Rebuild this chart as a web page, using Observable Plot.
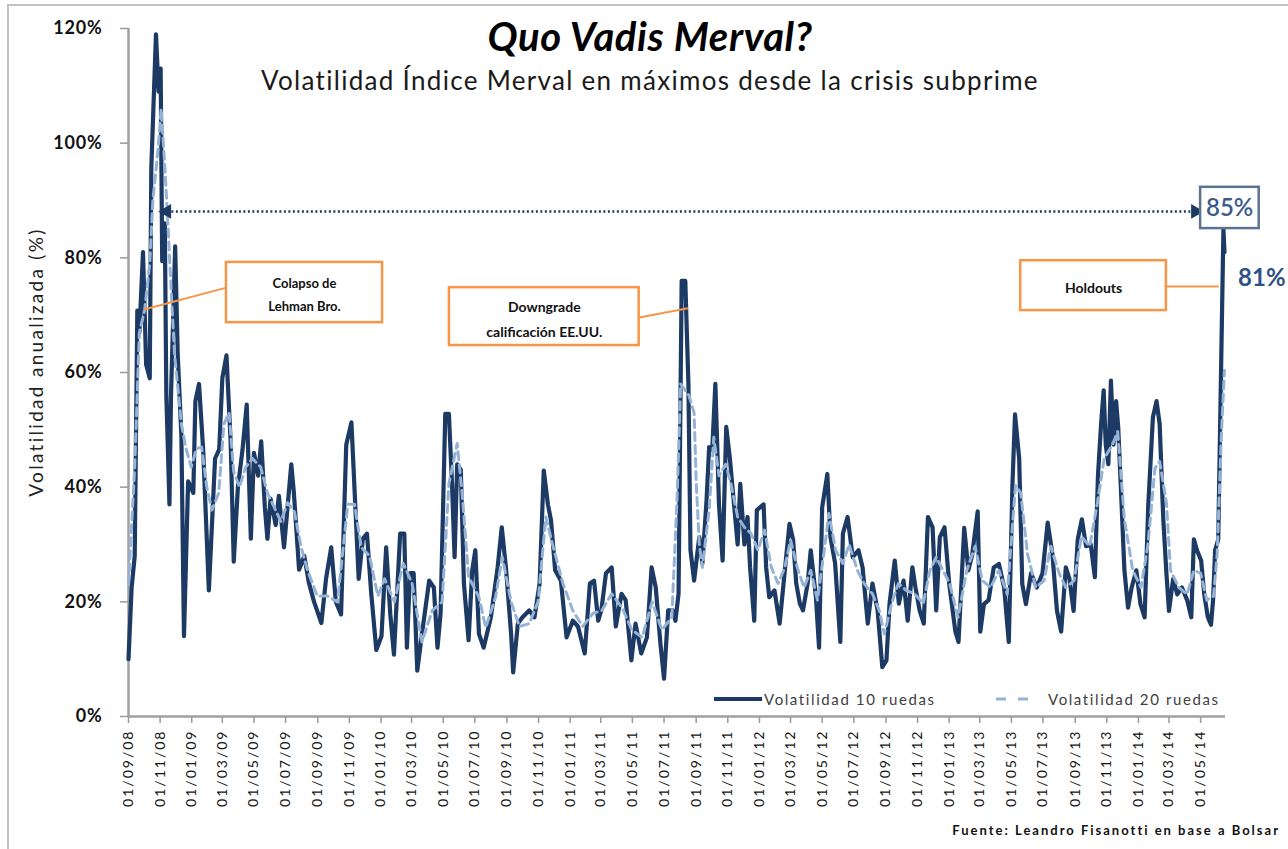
<!DOCTYPE html>
<html><head><meta charset="utf-8">
<script src="https://cdn.jsdelivr.net/npm/d3@7"></script>
<script src="https://cdn.jsdelivr.net/npm/@observablehq/plot@0.6"></script>
<style>
body{margin:0;background:#fff;font-family:Lato,"Open Sans",sans-serif;}
#wrap{position:relative;width:1288px;height:849px;overflow:hidden;background:#fff;}
#wrap > svg{position:absolute;left:0;top:0;}
.ov{position:absolute;white-space:nowrap;font-family:Lato,"Open Sans",sans-serif;}
#frame{position:absolute;left:7px;top:4px;width:1300px;height:860px;border-left:2px solid #c3c3c3;border-top:2px solid #c3c3c3;}
#title{left:0;width:1300px;text-align:center;top:16px;font-size:40px;line-height:40px;font-weight:bold;font-style:italic;color:#000;letter-spacing:0.6px;}
#subtitle{left:0;width:1300px;text-align:center;top:67px;font-size:26px;line-height:26px;color:#1a1a1a;letter-spacing:1.3px;}
#ylab{left:-134px;top:352px;width:340px;height:20px;line-height:20px;text-align:center;font-size:19px;color:#222;letter-spacing:2.3px;transform:rotate(-90deg);}
#source{right:8px;top:824px;font-size:13px;line-height:13px;font-weight:bold;color:#111;letter-spacing:2px;}
.leg{top:688px;font-size:15px;line-height:18px;color:#404040;letter-spacing:1.6px;}
.leg svg{display:inline-block;vertical-align:middle;}
.leg span{vertical-align:middle;}
g[aria-label="y-axis tick label"] text{letter-spacing:0.8px;}
g[aria-label="x-axis tick label"] text{letter-spacing:2px;}
g[aria-label="anno"] text{letter-spacing:1px;}
</style></head>
<body><div id="wrap"></div>
<script>
// ---- Data: Volatilidad 10 ruedas (annualized %) ----
const vol10Dates = [
"2008-09-01","2008-09-07","2008-09-13","2008-09-18","2008-09-22","2008-09-29","2008-10-05","2008-10-12","2008-10-15","2008-10-24",
"2008-10-29","2008-11-02","2008-11-05","2008-11-10","2008-11-13","2008-11-19","2008-11-22","2008-11-30","2008-12-05","2008-12-12",
"2008-12-17","2008-12-25","2009-01-04","2009-01-08","2009-01-15","2009-01-23","2009-02-03","2009-02-15","2009-02-23","2009-03-01",
"2009-03-09","2009-03-17","2009-03-23","2009-03-31","2009-04-09","2009-04-17","2009-04-25","2009-05-01","2009-05-09","2009-05-15",
"2009-05-22","2009-05-27","2009-06-02","2009-06-12","2009-06-18","2009-06-28","2009-07-04","2009-07-12","2009-07-17","2009-07-27",
"2009-08-06","2009-08-15","2009-08-25","2009-09-08","2009-09-17","2009-09-27","2009-10-06","2009-10-16","2009-10-26","2009-11-05",
"2009-11-11","2009-11-19","2009-11-27","2009-12-05","2009-12-13","2009-12-23","2010-01-02","2010-01-11","2010-01-19","2010-01-26",
"2010-02-07","2010-02-15","2010-02-20","2010-02-26","2010-03-05","2010-03-12","2010-03-21","2010-04-04","2010-04-13","2010-04-20",
"2010-04-26","2010-05-05","2010-05-12","2010-05-18","2010-05-23","2010-05-28","2010-06-04","2010-06-10","2010-06-19","2010-06-26",
"2010-07-02","2010-07-09","2010-07-18","2010-08-01","2010-08-14","2010-08-22","2010-08-30","2010-09-09","2010-09-13","2010-09-22",
"2010-10-01","2010-10-14","2010-10-24","2010-11-03","2010-11-11","2010-11-19","2010-11-25","2010-12-03","2010-12-14","2010-12-25",
"2011-01-06","2011-01-16","2011-01-29","2011-02-08","2011-02-16","2011-02-24","2011-03-02","2011-03-11","2011-03-22","2011-03-30",
"2011-04-10","2011-04-18","2011-04-29","2011-05-07","2011-05-18","2011-05-29","2011-06-07","2011-06-15","2011-06-24","2011-07-01",
"2011-07-09","2011-07-18","2011-07-23","2011-07-29","2011-08-04","2011-08-11","2011-08-17","2011-08-21","2011-08-28","2011-09-07",
"2011-09-13","2011-09-21","2011-09-26","2011-10-02","2011-10-08","2011-10-15","2011-10-22","2011-10-29","2011-11-05","2011-11-14",
"2011-11-20","2011-11-25","2011-12-03","2011-12-09","2011-12-14","2011-12-22","2011-12-27","2012-01-09","2012-01-14","2012-01-20",
"2012-01-30","2012-02-09","2012-02-19","2012-02-28","2012-03-06","2012-03-12","2012-03-19","2012-03-25","2012-04-03","2012-04-09",
"2012-04-19","2012-04-25","2012-05-01","2012-05-11","2012-05-17","2012-05-26","2012-06-05","2012-06-10","2012-06-19","2012-06-29",
"2012-07-10","2012-07-18","2012-07-28","2012-08-06","2012-08-16","2012-08-25","2012-09-02","2012-09-08","2012-09-18","2012-09-26",
"2012-10-05","2012-10-13","2012-10-22","2012-10-28","2012-11-05","2012-11-13","2012-11-21","2012-11-30","2012-12-07","2012-12-14",
"2012-12-23","2013-01-01","2013-01-13","2013-01-19","2013-01-30","2013-02-07","2013-02-14","2013-02-25","2013-03-02","2013-03-09",
"2013-03-18","2013-03-28","2013-04-07","2013-04-17","2013-04-26","2013-05-03","2013-05-08","2013-05-16","2013-05-22","2013-05-29",
"2013-06-08","2013-06-19","2013-06-30","2013-07-10","2013-07-19","2013-07-28","2013-08-05","2013-08-14","2013-08-21","2013-08-29",
"2013-09-06","2013-09-14","2013-09-22","2013-10-01","2013-10-09","2013-10-15","2013-10-21","2013-10-26","2013-10-30","2013-11-04",
"2013-11-09","2013-11-14","2013-11-19","2013-11-23","2013-11-28","2013-12-05","2013-12-12","2013-12-19","2013-12-28","2014-01-05",
"2014-01-13","2014-01-20","2014-01-29","2014-02-05","2014-02-11","2014-02-18","2014-02-24","2014-03-01","2014-03-09","2014-03-17",
"2014-03-26","2014-04-05","2014-04-13","2014-04-18","2014-04-24","2014-05-02","2014-05-08","2014-05-15","2014-05-21","2014-05-25",
"2014-05-29","2014-06-04","2014-06-09","2014-06-14","2014-06-16"];
const vol10Values = [
10,22.5,28,70.8,67,81,61.4,59,95.7,119,
109,113,79.4,86,56,37,56,82,63,49,
14,41,39,55,58,46.6,22,45,46.6,59,
63,48,27,40,46.6,54.4,31,46,42,48,
36.5,31,38,33.4,38.5,29.5,35.7,44,39,25.6,
28,23.3,20,16.3,24,29.5,20,17.8,47.4,51.3,
39.6,24,31,31.9,21.7,11.6,14,29.5,17.8,10.8,
31.9,31.9,12,25,25,8,14.4,23.7,22.5,12,
18,52.8,52.8,40.6,27.8,44,43,23.2,13.3,25.5,
29,14.4,12,17.3,26,33,26,14.4,7.7,16.2,
17.3,18.5,17.3,23.2,42.9,37,34.2,25.5,23.7,13.8,
16.7,15.7,11,23.2,23.7,16.7,18.5,25,26,15.7,
21.4,20.3,9.8,16.2,11,13.8,26,22.5,12.7,6.6,
18.5,18.5,16.7,21.4,76,76,58,29,23.7,31.3,
26.7,37.7,47,46.5,58,37,27.2,50.5,45,36,
30,40.6,30,34.8,26,16.7,36,37,26,20.8,
22,16.2,25.5,33.6,30.8,23.2,19.7,18.5,23.2,29,
20.8,12,36.5,42.3,31.3,26.7,13,31.9,34.8,27.8,
29,26,16.2,23.2,18.5,8.6,9.8,19.7,27.2,19.7,
23.7,16.7,26,22.5,18.5,16.2,34.8,33,18.5,31.3,
33,23.2,14.8,13,32.9,25.5,28,35.8,14.8,19.6,
20.3,26,26.6,22.5,13,40.3,52.7,45,23.1,19.6,
25,22.5,25,33.8,28.4,18.4,14.8,26,24,18.4,
30.9,34.4,29.7,30,24.3,42,51,56.9,47.4,44,
58.6,47.4,55,50.5,40.3,25.5,19,22.5,25.5,19.6,
17.3,36.8,52.2,55,51,34.4,25,18.4,24,21.3,
22.5,20.3,17.3,30.9,29,27.2,21.3,17.3,16,20.3,
29,30.9,58,85,81];

// ---- Data: Volatilidad 20 ruedas ----
const vol20Dates = [
"2008-09-01","2008-09-13","2008-09-22","2008-10-02","2008-10-12","2008-10-18","2008-10-28","2008-11-03","2008-11-10","2008-11-16",
"2008-11-23","2008-11-29","2008-12-05","2008-12-12","2008-12-21","2008-12-31","2009-01-10","2009-01-20","2009-01-30","2009-02-09",
"2009-02-22","2009-03-04","2009-03-14","2009-03-23","2009-04-03","2009-04-15","2009-04-28","2009-05-14","2009-05-27","2009-06-09",
"2009-06-22","2009-07-05","2009-07-18","2009-07-31","2009-08-12","2009-08-31","2009-09-20","2009-10-09","2009-10-29","2009-11-11",
"2009-11-24","2009-12-10","2009-12-26","2010-01-08","2010-01-27","2010-02-13","2010-03-02","2010-03-21","2010-04-10","2010-04-29",
"2010-05-12","2010-05-28","2010-06-07","2010-06-19","2010-07-09","2010-07-22","2010-08-10","2010-08-23","2010-09-09","2010-09-25",
"2010-10-14","2010-10-31","2010-11-15","2010-11-28","2010-12-18","2011-01-06","2011-01-25","2011-02-14","2011-03-03","2011-03-22",
"2011-04-11","2011-04-30","2011-05-20","2011-06-08","2011-06-27","2011-07-16","2011-07-26","2011-08-02","2011-08-18","2011-08-28",
"2011-09-01","2011-09-07","2011-09-13","2011-09-26","2011-10-05","2011-10-15","2011-10-28","2011-11-07","2011-11-20","2011-12-03",
"2011-12-16","2011-12-29","2012-01-11","2012-01-24","2012-02-06","2012-02-19","2012-03-01","2012-03-14","2012-03-27","2012-04-09",
"2012-04-22","2012-05-05","2012-05-14","2012-05-27","2012-06-10","2012-06-22","2012-07-08","2012-07-21","2012-08-06","2012-08-19",
"2012-08-29","2012-09-12","2012-09-25","2012-10-10","2012-10-26","2012-11-12","2012-11-25","2012-12-07","2012-12-20","2013-01-02",
"2013-01-18","2013-02-04","2013-02-20","2013-03-06","2013-03-22","2013-04-07","2013-04-23","2013-05-09","2013-05-19","2013-06-01",
"2013-06-17","2013-07-03","2013-07-16","2013-08-01","2013-08-14","2013-08-30","2013-09-13","2013-09-29","2013-10-14","2013-10-27",
"2013-11-12","2013-11-22","2013-12-05","2013-12-21","2014-01-06","2014-01-19","2014-02-02","2014-02-11","2014-02-24","2014-03-04",
"2014-03-20","2014-04-05","2014-04-18","2014-05-01","2014-05-13","2014-05-26","2014-06-02","2014-06-10","2014-06-16"];
const vol20Values = [
23,43.5,67,70.8,79,90,99,106,96,86,
73,63,57.5,51,46.7,43.5,46.7,47,40,36,
39,51,53,42.7,40,43.5,45,43.5,39,36.5,
34,37.3,35.7,29.5,25.6,21,21,20,37,37,
29.5,28,21,24,20,26.7,23.2,13,18.5,20,
40.6,47.6,38.5,24.4,20.8,15.5,20.8,27.8,20,15.7,
16.2,20,34.8,30,23.2,18.5,15.7,18,18.5,21.4,
19,15.1,13.8,20,15.1,17.3,37.7,58,56,53,
41,30,26,36,48.7,42,44,40.6,34.8,33,
31.9,29,32.5,26,23.2,26,30.8,26,22.5,25.5,
20.3,29,35.4,29,26.7,30,25.5,23.2,21.4,18.5,
14.4,19.7,23.2,22,21.4,19.7,25.5,27.8,25.5,23.2,
17.3,25.5,29.7,23.7,22.5,25.5,21.3,40.3,39,28.4,
22.5,23.7,29.7,25,22.5,23.7,31.4,29.7,37.3,45,
47.4,49.7,34.4,25.5,22.5,29.7,43.3,44.5,37.3,25.5,
22.5,21.3,25.5,25,20.3,21,28.4,49,60.4];

// ---- Axis ticks ----
const xTickLabels = ["01/09/08","01/11/08","01/01/09","01/03/09","01/05/09","01/07/09","01/09/09","01/11/09",
"01/01/10","01/03/10","01/05/10","01/07/10","01/09/10","01/11/10","01/01/11","01/03/11","01/05/11","01/07/11",
"01/09/11","01/11/11","01/01/12","01/03/12","01/05/12","01/07/12","01/09/12","01/11/12","01/01/13","01/03/13",
"01/05/13","01/07/13","01/09/13","01/11/13","01/01/14","01/03/14","01/05/14"];
const yTicks = [0,20,40,60,80,100,120];
const xDomain = ["2008-09-01","2014-06-18"];

// ---- Annotations ----
const annoText = ["Colapso de\nLehman Bro.","Downgrade\ncalificación EE.UU.","Holdouts"];
const annoX1 = ["2009-03-09","2010-05-13","2013-05-19"];
const annoX2 = ["2010-01-04","2011-05-14","2014-02-24"];
const annoTop = [79.2,74.8,79.5];
const annoBottom = [68.7,64.7,70.8];
const annoFont = [13,14,14];
const linkFromX = ["2009-03-09","2011-05-14","2014-02-24"];
const linkFromY = [74.8,69.6,75];
const linkToX = ["2008-10-01","2011-08-16","2014-06-05"];
const linkToY = [71,71.2,75];
const arrowX = ["2008-11-14","2014-04-21"];
const arrowY = 88.1;
const maxBox = {x1:"2014-05-01", x2:"2014-08-22", y1:85.1, y2:92.3, label:"85%", lx:"2014-06-26", ly:88.7};
const lastLabel = {x:"2014-08-27", y:76.5, label:"81%"};

const P = d3.utcParse("%Y-%m-%d");
const data10 = vol10Dates.map((d,i)=>({date:P(d), v:vol10Values[i]}));
const data20 = vol20Dates.map((d,i)=>({date:P(d), v:vol20Values[i]}));
const xTicks = xTickLabels.map(s=>d3.utcParse("%d/%m/%y")(s));
const annos = annoText.map((t,i)=>({t, x1:P(annoX1[i]), x2:P(annoX2[i]), y1:annoBottom[i], y2:annoTop[i],
  cx:new Date((+P(annoX1[i]) + +P(annoX2[i]))/2), cy:(annoTop[i]+annoBottom[i])/2, fs:annoFont[i]}));
const links = linkFromX.map((d,i)=>({x1:P(d), y1:linkFromY[i], x2:P(linkToX[i]), y2:linkToY[i]}));

const dark = "#1c3a64", light = "#95b3d7", orange = "#f79646";

const chart = Plot.plot({
  width:1288, height:849,
  marginLeft:128, marginRight:63, marginTop:28, marginBottom:133,
  style:{fontFamily:"Lato, 'Open Sans', sans-serif", background:"transparent", overflow:"visible"},
  x:{type:"utc", domain:xDomain.map(P)},
  y:{domain:[0,120]},
  marks:[
    Plot.axisY({ticks:yTicks, tickFormat:d=>d+"%", tickSize:8, tickPadding:18, fontSize:18, fontWeight:"bold", fill:"#111", stroke:"#9a9a9a", strokeWidth:1.5, label:null}),
    Plot.axisX({ticks:xTicks, tickFormat:(d,i)=>xTickLabels[i], tickRotate:-90, tickSize:7, tickPadding:6, fontSize:14, fill:"#111", stroke:"#9a9a9a", strokeWidth:1.5, label:null}),
    Plot.ruleY([0], {stroke:"#a0a0a0", strokeWidth:2.5}),
    Plot.ruleX([P(xDomain[0])], {stroke:"#a0a0a0", strokeWidth:2.5}),
    Plot.line(data10, {x:"date", y:"v", stroke:dark, strokeWidth:4.2, strokeLinejoin:"round"}),
    Plot.line(data20, {x:"date", y:"v", stroke:light, strokeWidth:3, strokeDasharray:"8,5"}),
    // dotted arrow
    Plot.link([{x1:P(arrowX[0]), x2:P(arrowX[1])}], {x1:"x1", x2:"x2", y1:()=>arrowY, y2:()=>arrowY, stroke:dark, strokeWidth:2.5, strokeDasharray:"2,2.5"}),
    Plot.dot([{x:P(arrowX[0]), r:-90},{x:P(arrowX[1]), r:90}], {x:"x", y:()=>arrowY, symbol:"triangle", rotate:"r", r:5.5, fill:dark, stroke:"none"}),
    // annotation boxes
    Plot.link(links, {x1:"x1", y1:"y1", x2:"x2", y2:"y2", stroke:orange, strokeWidth:2}),
    Plot.rect(annos, {x1:"x1", x2:"x2", y1:"y1", y2:"y2", fill:"white", stroke:orange, strokeWidth:2.5}),
    Plot.text(annos, {x:"cx", y:"cy", text:"t", fontSize:"fs", fontWeight:"bold", fill:"#111", lineHeight:1.75, ariaLabel:"anno"}),
    // max box
    Plot.rect([maxBox], {x1:d=>P(d.x1), x2:d=>P(d.x2), y1:"y1", y2:"y2", fill:"white", stroke:"#5b7290", strokeWidth:2.5}),
    Plot.text([maxBox], {x:d=>P(d.lx), y:"ly", text:"label", fontSize:24, fontWeight:600, fill:"#3a5a8c"}),
    Plot.text([lastLabel], {x:d=>P(d.x), y:"y", text:"label", fontSize:24, fontWeight:"bold", fill:"#2f5185"})
  ]
});

const wrap = document.getElementById("wrap");
wrap.appendChild(chart);
const add = (id, cls, html) => { const d = document.createElement("div"); d.id = id; d.className = cls; d.innerHTML = html; wrap.appendChild(d); return d; };
add("frame","", "");
add("title","ov","Quo Vadis Merval?");
add("subtitle","ov","Volatilidad Índice Merval en máximos desde la crisis subprime");
add("ylab","ov","Volatilidad anualizada (%)");
add("source","ov","Fuente: Leandro Fisanotti en base a Bolsar");
const l1 = add("leg1","ov leg",`<svg width="50" height="18"><line x1="0" y1="9" x2="48" y2="9" stroke="${dark}" stroke-width="4"/></svg><span>Volatilidad 10 ruedas</span>`);
l1.style.left = "714px";
const l2 = add("leg2","ov leg",`<svg width="52" height="18"><line x1="0" y1="9" x2="34" y2="9" stroke="${light}" stroke-width="3" stroke-dasharray="10,12"/></svg><span>Volatilidad 20 ruedas</span>`);
l2.style.left = "996px";
</script>
</body></html>
